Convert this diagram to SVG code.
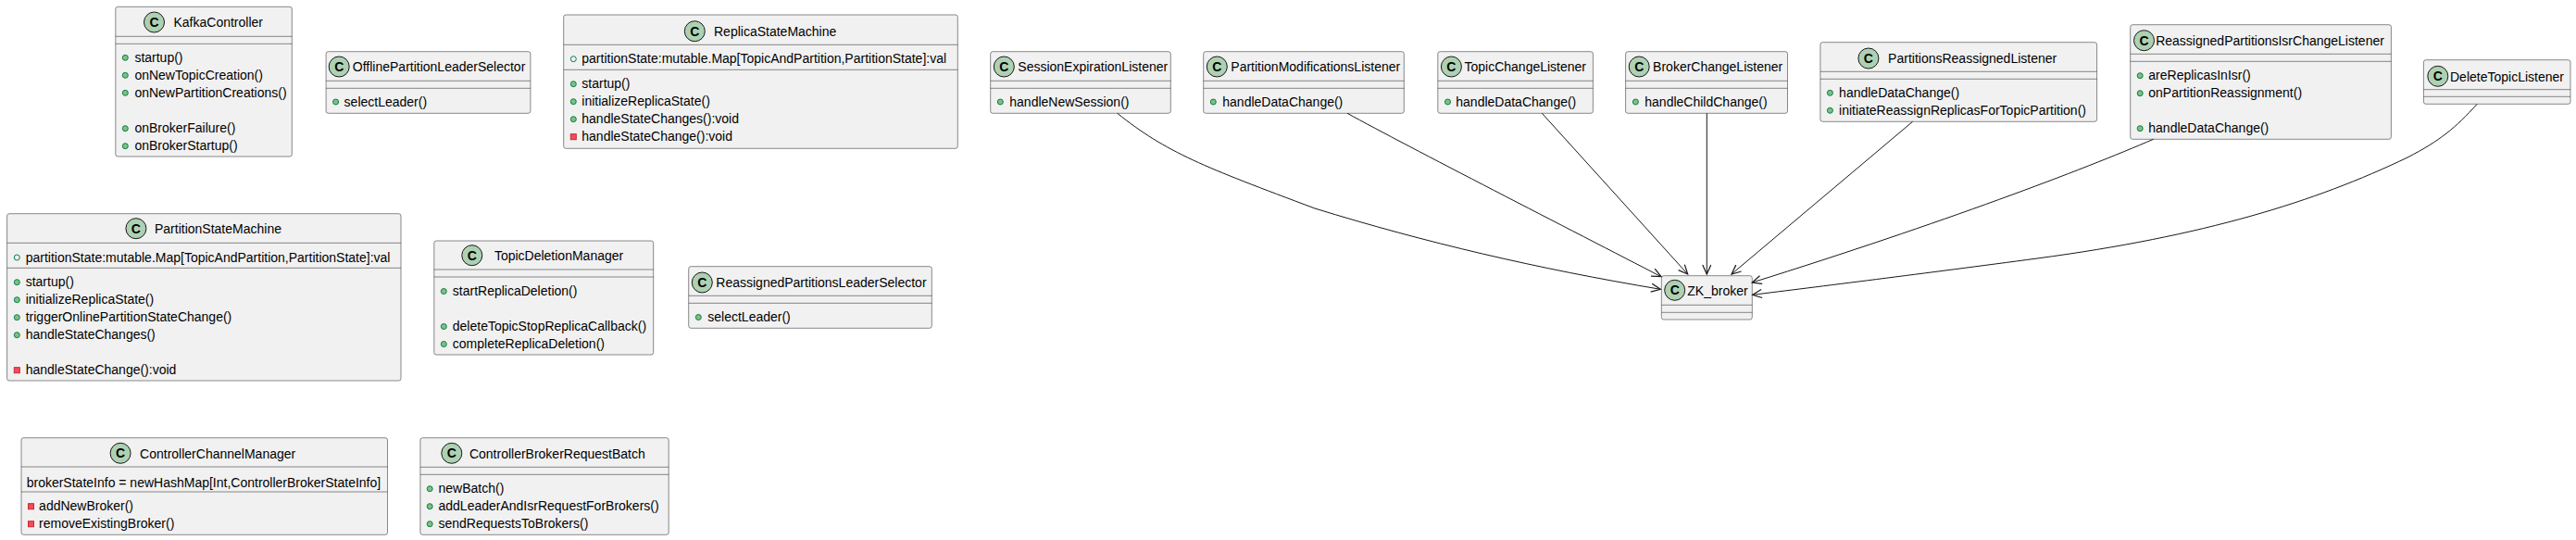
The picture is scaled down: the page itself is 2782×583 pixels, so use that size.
<svg xmlns="http://www.w3.org/2000/svg" width="2782" height="583" viewBox="0 0 2782 583">
<style>
.box{fill:#F1F1F1;stroke:#181818;stroke-width:0.5}
.sep{stroke:#181818;stroke-width:0.5}
.ci{fill:#ADD1B2;stroke:#181818;stroke-width:1}
.cl{font-family:"Liberation Sans",Arial,sans-serif;font-size:14px;font-weight:bold;fill:#000;text-anchor:middle}
.t{font-family:"Liberation Sans",Arial,sans-serif;font-size:14px;fill:#000}
.pm{fill:#84BE84;stroke:#038048;stroke-width:1}
.pf{fill:none;stroke:#038048;stroke-width:1}
.pr{fill:#F24D5C;stroke:#C82930;stroke-width:1}
.e{fill:none;stroke:#181818;stroke-width:1;marker-end:url(#arr)}
</style>
<defs>
<marker id="arr" markerUnits="userSpaceOnUse" markerWidth="14" markerHeight="12" viewBox="0 0 14 12" refX="11" refY="5" orient="auto">
<path d="M1,0.5 L11,5 L1,9.5" fill="none" stroke="#181818" stroke-width="1.2"/>
</marker>
</defs>
<rect width="2782" height="583" fill="#FFFFFF"/>

<g id="KafkaController">
<rect class="box" x="124.8" y="7.3" width="190.5" height="161.7" rx="2.5"/>
<circle class="ci" cx="166.5" cy="24" r="11"/><text class="cl" x="166.5" y="29">C</text>
<text class="t" x="187.5" y="29.3">KafkaController</text>
<line class="sep" x1="124.8" y1="39.3" x2="315.3" y2="39.3"/>
<line class="sep" x1="124.8" y1="47.3" x2="315.3" y2="47.3"/>
<circle class="pm" cx="135.3" cy="62.3" r="3"/><text class="t" x="145.4" y="66.8">startup()</text>
<circle class="pm" cx="135.3" cy="81.3" r="3"/><text class="t" x="145.4" y="85.8">onNewTopicCreation()</text>
<circle class="pm" cx="135.3" cy="100.3" r="3"/><text class="t" x="145.4" y="104.8">onNewPartitionCreations()</text>
<circle class="pm" cx="135.3" cy="138.7" r="3"/><text class="t" x="145.4" y="143.2">onBrokerFailure()</text>
<circle class="pm" cx="135.3" cy="157.7" r="3"/><text class="t" x="145.4" y="162.2">onBrokerStartup()</text>
</g>

<g id="OfflinePartitionLeaderSelector">
<rect class="box" x="352.1" y="55.7" width="220.8" height="66.6" rx="2.5"/>
<circle class="ci" cx="366.2" cy="72" r="11"/><text class="cl" x="366.2" y="77">C</text>
<text class="t" x="380.8" y="77.3">OfflinePartitionLeaderSelector</text>
<line class="sep" x1="352.1" y1="87.3" x2="572.9" y2="87.3"/>
<line class="sep" x1="352.1" y1="95.3" x2="572.9" y2="95.3"/>
<circle class="pm" cx="362.6" cy="110" r="3"/><text class="t" x="371.6" y="114.5">selectLeader()</text>
</g>

<g id="ReplicaStateMachine">
<rect class="box" x="608.7" y="16" width="425.6" height="144.3" rx="2.5"/>
<circle class="ci" cx="750.3" cy="33.7" r="11"/><text class="cl" x="750.3" y="38.7">C</text>
<text class="t" x="771" y="39">ReplicaStateMachine</text>
<line class="sep" x1="608.7" y1="48.3" x2="1034.3" y2="48.3"/>
<circle class="pf" cx="619.3" cy="63.7" r="3"/><text class="t" x="628.3" y="68.2">partitionState:mutable.Map[TopicAndPartition,PartitionState]:val</text>
<line class="sep" x1="608.7" y1="75.3" x2="1034.3" y2="75.3"/>
<circle class="pm" cx="619.3" cy="90.7" r="3"/><text class="t" x="628.3" y="95.2">startup()</text>
<circle class="pm" cx="619.3" cy="109.7" r="3"/><text class="t" x="628.3" y="114.2">initializeReplicaState()</text>
<circle class="pm" cx="619.3" cy="128.7" r="3"/><text class="t" x="628.3" y="133.2">handleStateChanges():void</text>
<rect class="pr" x="616.3" y="144.7" width="6" height="6"/><text class="t" x="628.3" y="152.2">handleStateChange():void</text>
</g>

<g id="PartitionStateMachine">
<rect class="box" x="7.6" y="230.7" width="425.4" height="180.3" rx="2.5"/>
<circle class="ci" cx="146.9" cy="246.7" r="11"/><text class="cl" x="146.9" y="251.7">C</text>
<text class="t" x="167" y="252">PartitionStateMachine</text>
<line class="sep" x1="7.6" y1="262.3" x2="433" y2="262.3"/>
<circle class="pf" cx="18.3" cy="278" r="3"/><text class="t" x="27.7" y="282.5">partitionState:mutable.Map[TopicAndPartition,PartitionState]:val</text>
<line class="sep" x1="7.6" y1="289.3" x2="433" y2="289.3"/>
<circle class="pm" cx="18.3" cy="304.7" r="3"/><text class="t" x="27.7" y="309.2">startup()</text>
<circle class="pm" cx="18.3" cy="323.7" r="3"/><text class="t" x="27.7" y="328.2">initializeReplicaState()</text>
<circle class="pm" cx="18.3" cy="342.7" r="3"/><text class="t" x="27.7" y="347.2">triggerOnlinePartitionStateChange()</text>
<circle class="pm" cx="18.3" cy="361.7" r="3"/><text class="t" x="27.7" y="366.2">handleStateChanges()</text>
<rect class="pr" x="15.3" y="396.7" width="6" height="6"/><text class="t" x="27.7" y="404.2">handleStateChange():void</text>
</g>

<g id="TopicDeletionManager">
<rect class="box" x="468.8" y="260" width="236.9" height="123" rx="2.5"/>
<circle class="ci" cx="509.8" cy="275.7" r="11"/><text class="cl" x="509.8" y="280.7">C</text>
<text class="t" x="533.9" y="281">TopicDeletionManager</text>
<line class="sep" x1="468.8" y1="291" x2="705.7" y2="291"/>
<line class="sep" x1="468.8" y1="299" x2="705.7" y2="299"/>
<circle class="pm" cx="479.3" cy="314.5" r="3"/><text class="t" x="488.8" y="319">startReplicaDeletion()</text>
<circle class="pm" cx="479.3" cy="352.5" r="3"/><text class="t" x="488.8" y="357">deleteTopicStopReplicaCallback()</text>
<circle class="pm" cx="479.3" cy="371.5" r="3"/><text class="t" x="488.8" y="376">completeReplicaDeletion()</text>
</g>

<g id="ReassignedPartitionsLeaderSelector">
<rect class="box" x="743.7" y="287.7" width="262.6" height="66.6" rx="2.5"/>
<circle class="ci" cx="758.3" cy="305" r="11"/><text class="cl" x="758.3" y="310">C</text>
<text class="t" x="773.3" y="310.3">ReassignedPartitionsLeaderSelector</text>
<line class="sep" x1="743.7" y1="319.3" x2="1006.3" y2="319.3"/>
<line class="sep" x1="743.7" y1="327.3" x2="1006.3" y2="327.3"/>
<circle class="pm" cx="754.3" cy="342.5" r="3"/><text class="t" x="764.3" y="347">selectLeader()</text>
</g>

<g id="ControllerChannelManager">
<rect class="box" x="23" y="472.7" width="395.5" height="104.6" rx="2.5"/>
<circle class="ci" cx="130.1" cy="489.3" r="11"/><text class="cl" x="130.1" y="494.3">C</text>
<text class="t" x="151.1" y="494.6">ControllerChannelManager</text>
<line class="sep" x1="23" y1="504" x2="418.5" y2="504"/>
<text class="t" x="28.7" y="525.5">brokerStateInfo = newHashMap[Int,ControllerBrokerStateInfo]</text>
<line class="sep" x1="23" y1="531" x2="418.5" y2="531"/>
<rect class="pr" x="30.5" y="543.7" width="6" height="6"/><text class="t" x="42.1" y="551.2">addNewBroker()</text>
<rect class="pr" x="30.5" y="562.7" width="6" height="6"/><text class="t" x="42.1" y="570.2">removeExistingBroker()</text>
</g>

<g id="ControllerBrokerRequestBatch">
<rect class="box" x="453.9" y="472.7" width="268.3" height="104.6" rx="2.5"/>
<circle class="ci" cx="487.8" cy="489.3" r="11"/><text class="cl" x="487.8" y="494.3">C</text>
<text class="t" x="506.9" y="494.6">ControllerBrokerRequestBatch</text>
<line class="sep" x1="453.9" y1="504.3" x2="722.2" y2="504.3"/>
<line class="sep" x1="453.9" y1="512.3" x2="722.2" y2="512.3"/>
<circle class="pm" cx="464.2" cy="527.7" r="3"/><text class="t" x="473.5" y="532.2">newBatch()</text>
<circle class="pm" cx="464.2" cy="546.7" r="3"/><text class="t" x="473.5" y="551.2">addLeaderAndIsrRequestForBrokers()</text>
<circle class="pm" cx="464.2" cy="565.7" r="3"/><text class="t" x="473.5" y="570.2">sendRequestsToBrokers()</text>
</g>

<g id="SessionExpirationListener">
<rect class="box" x="1069.7" y="55.7" width="194.6" height="66.6" rx="2.5"/>
<circle class="ci" cx="1084.3" cy="72" r="11"/><text class="cl" x="1084.3" y="77">C</text>
<text class="t" x="1099.3" y="77.3">SessionExpirationListener</text>
<line class="sep" x1="1069.7" y1="87.3" x2="1264.3" y2="87.3"/>
<line class="sep" x1="1069.7" y1="95.3" x2="1264.3" y2="95.3"/>
<circle class="pm" cx="1080.3" cy="110" r="3"/><text class="t" x="1090.3" y="114.5">handleNewSession()</text>
</g>

<g id="PartitionModificationsListener">
<rect class="box" x="1299.7" y="55.7" width="216.6" height="66.6" rx="2.5"/>
<circle class="ci" cx="1314.3" cy="72" r="11"/><text class="cl" x="1314.3" y="77">C</text>
<text class="t" x="1329.3" y="77.3">PartitionModificationsListener</text>
<line class="sep" x1="1299.7" y1="87.3" x2="1516.3" y2="87.3"/>
<line class="sep" x1="1299.7" y1="95.3" x2="1516.3" y2="95.3"/>
<circle class="pm" cx="1310.3" cy="110" r="3"/><text class="t" x="1320.3" y="114.5">handleDataChange()</text>
</g>

<g id="TopicChangeListener">
<rect class="box" x="1552.8" y="55.7" width="167.6" height="66.6" rx="2.5"/>
<circle class="ci" cx="1567.4" cy="72" r="11"/><text class="cl" x="1567.4" y="77">C</text>
<text class="t" x="1581.5" y="77.3">TopicChangeListener</text>
<line class="sep" x1="1552.8" y1="87.3" x2="1720.4" y2="87.3"/>
<line class="sep" x1="1552.8" y1="95.3" x2="1720.4" y2="95.3"/>
<circle class="pm" cx="1563.5" cy="110" r="3"/><text class="t" x="1572.3" y="114.5">handleDataChange()</text>
</g>

<g id="BrokerChangeListener">
<rect class="box" x="1755.6" y="55.7" width="174.9" height="66.6" rx="2.5"/>
<circle class="ci" cx="1770.2" cy="72" r="11"/><text class="cl" x="1770.2" y="77">C</text>
<text class="t" x="1785.1" y="77.3">BrokerChangeListener</text>
<line class="sep" x1="1755.6" y1="87.3" x2="1930.5" y2="87.3"/>
<line class="sep" x1="1755.6" y1="95.3" x2="1930.5" y2="95.3"/>
<circle class="pm" cx="1766.4" cy="110" r="3"/><text class="t" x="1776.3" y="114.5">handleChildChange()</text>
</g>

<g id="PartitionsReassignedListener">
<rect class="box" x="1965.9" y="45.7" width="298.7" height="85.6" rx="2.5"/>
<circle class="ci" cx="2017.9" cy="63" r="11"/><text class="cl" x="2017.9" y="68">C</text>
<text class="t" x="2039.1" y="68.3">PartitionsReassignedListener</text>
<line class="sep" x1="1965.9" y1="77.3" x2="2264.6" y2="77.3"/>
<line class="sep" x1="1965.9" y1="85.3" x2="2264.6" y2="85.3"/>
<circle class="pm" cx="1976.4" cy="100.3" r="3"/><text class="t" x="1986.1" y="104.8">handleDataChange()</text>
<circle class="pm" cx="1976.4" cy="119.3" r="3"/><text class="t" x="1986.1" y="123.8">initiateReassignReplicasForTopicPartition()</text>
</g>

<g id="ReassignedPartitionsIsrChangeListener">
<rect class="box" x="2300.7" y="26.7" width="281.7" height="123.6" rx="2.5"/>
<circle class="ci" cx="2315.5" cy="43.7" r="11"/><text class="cl" x="2315.5" y="48.7">C</text>
<text class="t" x="2328.2" y="49">ReassignedPartitionsIsrChangeListener</text>
<line class="sep" x1="2300.7" y1="58.3" x2="2582.4" y2="58.3"/>
<line class="sep" x1="2300.7" y1="66.3" x2="2582.4" y2="66.3"/>
<circle class="pm" cx="2311.2" cy="81.7" r="3"/><text class="t" x="2320.3" y="86.2">areReplicasInIsr()</text>
<circle class="pm" cx="2311.2" cy="100.7" r="3"/><text class="t" x="2320.3" y="105.2">onPartitionReassignment()</text>
<circle class="pm" cx="2311.2" cy="138.7" r="3"/><text class="t" x="2320.3" y="143.2">handleDataChange()</text>
</g>

<g id="DeleteTopicListener">
<rect class="box" x="2617.4" y="64.7" width="158.6" height="47.6" rx="2.5"/>
<circle class="ci" cx="2632.8" cy="82.3" r="11"/><text class="cl" x="2632.8" y="87.3">C</text>
<text class="t" x="2646" y="87.6">DeleteTopicListener</text>
<line class="sep" x1="2617.4" y1="96.7" x2="2776" y2="96.7"/>
<line class="sep" x1="2617.4" y1="104.3" x2="2776" y2="104.3"/>
</g>

<g id="ZK_broker">
<rect class="box" x="1794.3" y="297.7" width="98" height="47.3" rx="2.5"/>
<circle class="ci" cx="1808.7" cy="313.3" r="11"/><text class="cl" x="1808.7" y="318.3">C</text>
<text class="t" x="1822.3" y="318.6">ZK_broker</text>
<line class="sep" x1="1794.3" y1="329.3" x2="1892.3" y2="329.3"/>
<line class="sep" x1="1794.3" y1="337.3" x2="1892.3" y2="337.3"/>
</g>

<g id="connectors">
<path class="e" d="M1206.7,122.3 C1260,165 1300,180 1420,225 C1540,262 1660,290 1793.3,312.3"/>
<path class="e" d="M1455,122.3 C1520,158 1700,250 1794,298.7"/>
<path class="e" d="M1665.3,122.3 L1822.7,296"/>
<path class="e" d="M1843.3,122.3 L1843.3,296"/>
<path class="e" d="M2065.6,131.3 L1870,296"/>
<path class="e" d="M2325.6,150.3 C2250,183 2100,240 1892.3,305"/>
<path class="e" d="M2675.2,112.3 C2652,138 2635,152 2600,170 C2500,218 2380,255 2200,279 C2080,295 1960,310 1892.7,318.3"/>
</g>
</svg>
